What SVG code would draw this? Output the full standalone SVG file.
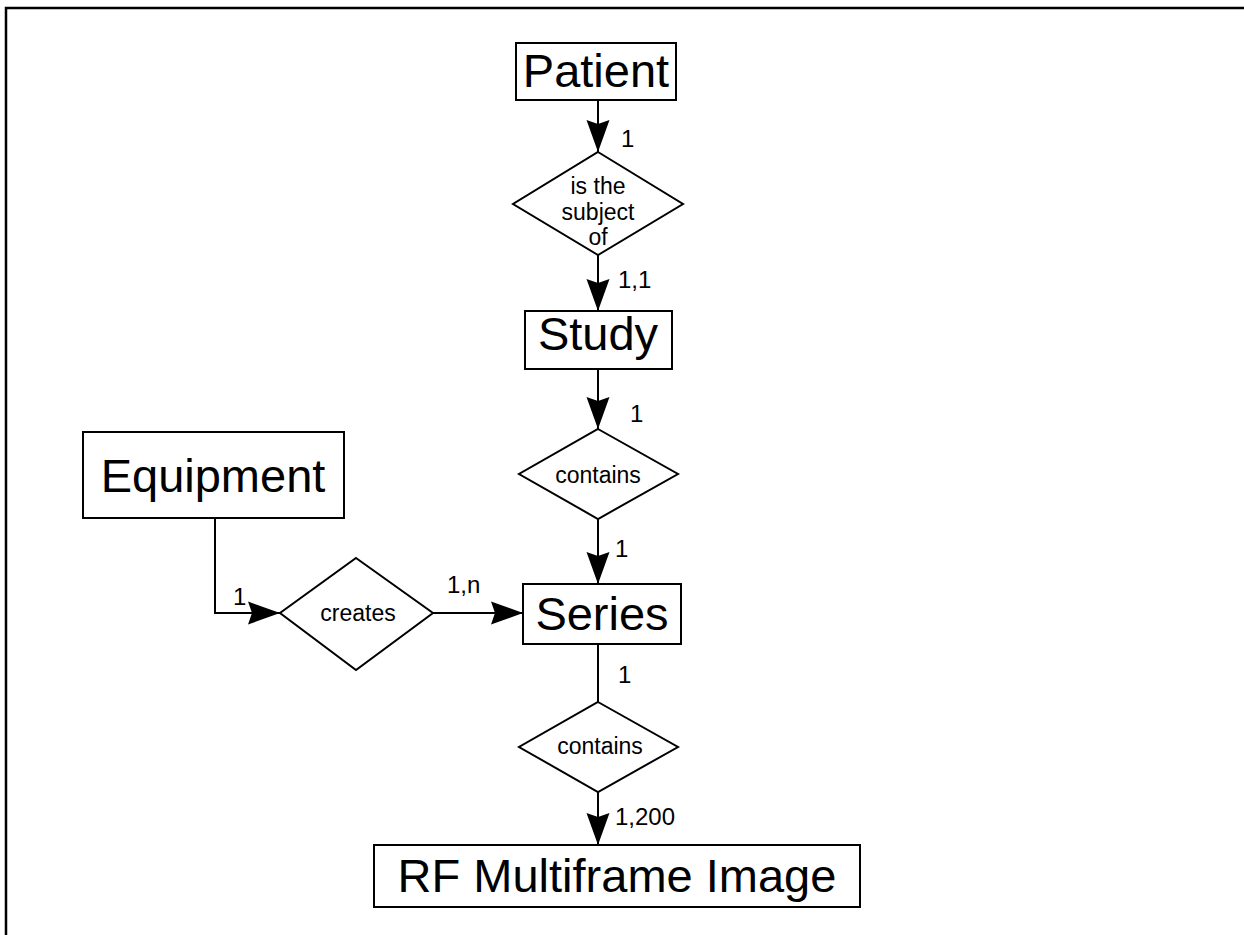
<svg xmlns="http://www.w3.org/2000/svg" width="1244" height="935" viewBox="0 0 1244 935">
<style>
.box{fill:#fff;stroke:#000;stroke-width:2}
.dia{fill:#fff;stroke:#000;stroke-width:2}
.big{font-family:"Liberation Sans",Arial,sans-serif;font-size:47px;text-anchor:middle;fill:#000}
.rel{font-family:"Liberation Sans",Arial,sans-serif;font-size:23px;text-anchor:middle;fill:#000}
.lbl{font-family:"Liberation Sans",Arial,sans-serif;font-size:24px;fill:#000}
.con{fill:none;stroke:#000;stroke-width:2}
</style>
<defs>
<marker id="arr" markerUnits="userSpaceOnUse" markerWidth="34" markerHeight="24" refX="32" refY="12" orient="auto">
<path d="M0,0.5 L32,12 L0,23.5 L4,12 Z" fill="#000"/>
</marker>
</defs>
<rect x="6" y="8" width="1260" height="960" fill="#fff" stroke="#000" stroke-width="2.5"/>
<g id="connectors">
<line class="con" x1="598" y1="100" x2="598" y2="152" marker-end="url(#arr)"/>
<line class="con" x1="598" y1="255" x2="598" y2="311" marker-end="url(#arr)"/>
<line class="con" x1="598" y1="369" x2="598" y2="429" marker-end="url(#arr)"/>
<line class="con" x1="598" y1="519" x2="598" y2="584" marker-end="url(#arr)"/>
<line class="con" x1="598" y1="644" x2="598" y2="702"/>
<line class="con" x1="598" y1="792" x2="598" y2="845" marker-end="url(#arr)"/>
<polyline class="con" points="215,518 215,613 280,613" marker-end="url(#arr)"/>
<line class="con" x1="433" y1="613" x2="523" y2="613" marker-end="url(#arr)"/>
<text class="lbl" x="621" y="147">1</text>
<text class="lbl" x="618" y="288">1,1</text>
<text class="lbl" x="630" y="422">1</text>
<text class="lbl" x="615" y="557">1</text>
<text class="lbl" x="233" y="605">1</text>
<text class="lbl" x="447" y="593">1,n</text>
<text class="lbl" x="618" y="683">1</text>
<text class="lbl" x="615" y="825">1,200</text>
</g>
<g id="patient">
<rect class="box" x="516" y="43" width="160" height="57"/>
<text class="big" x="596" y="87">Patient</text>
</g>
<g id="subject_of">
<polygon class="dia" points="598,152 683,204 598,255 513,204"/>
<text class="rel" x="598" y="194">is the</text>
<text class="rel" x="598" y="220">subject</text>
<text class="rel" x="598" y="245">of</text>
</g>
<g id="study">
<rect class="box" x="525" y="311" width="147" height="58"/>
<text class="big" x="598" y="350">Study</text>
</g>
<g id="contains1">
<polygon class="dia" points="598,429 678,474 598,519 519,474"/>
<text class="rel" x="598" y="483">contains</text>
</g>
<g id="equipment">
<rect class="box" x="83" y="432" width="261" height="86"/>
<text class="big" x="213" y="492">Equipment</text>
</g>
<g id="creates">
<polygon class="dia" points="356,558 433,613 356,670 280,613"/>
<text class="rel" x="358" y="621">creates</text>
</g>
<g id="series">
<rect class="box" x="523" y="584" width="158" height="60"/>
<text class="big" x="602" y="630">Series</text>
</g>
<g id="contains2">
<polygon class="dia" points="598,702 678,747 598,792 519,747"/>
<text class="rel" x="600" y="754">contains</text>
</g>
<g id="rf_image">
<rect class="box" x="374" y="845" width="486" height="62"/>
<text class="big" x="617" y="892">RF Multiframe Image</text>
</g>
</svg>
